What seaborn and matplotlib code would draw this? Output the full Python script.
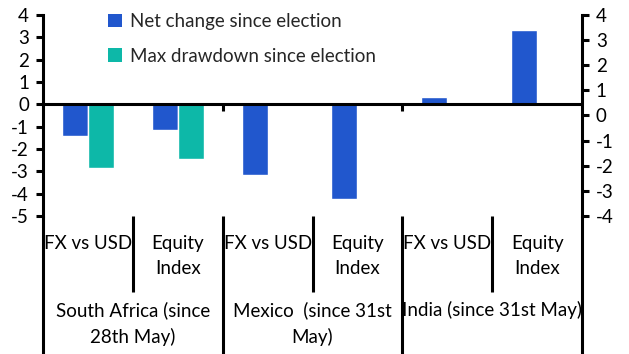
import matplotlib
matplotlib.use("Agg")
import matplotlib.pyplot as plt
import matplotlib.transforms as mtransforms
import seaborn as sns
import pandas as pd
import numpy as np

# ---- data ----
groups = ["South Africa (since\n28th May)", "Mexico  (since 31st\nMay)", "India (since 31st May)"]
subcats = ["FX vs USD", "Equity\nIndex"]
net_change = [-1.4, -1.15, -3.15, -4.25, 0.35, 3.35]
max_drawdown = [-2.85, -2.45, np.nan, np.nan, np.nan, np.nan]
series_names = ["Net change since election", "Max drawdown since election"]
left_ticks = [4, 3, 2, 1, 0, -1, -2, -3, -4, -5]
right_ticks = [4, 3, 2, 1, 0, -1, -2, -3, -4]

BLUE = "#2157CD"
TEAL = "#0DB8A8"

keys = [f"{g}|{s}" for g in groups for s in subcats]
df = pd.DataFrame({
    "key": keys * 2,
    "value": net_change + max_drawdown,
    "series": [series_names[0]] * 6 + [series_names[1]] * 6,
})

sns.set_theme(style="white")
plt.rcParams["font.family"] = ["Lato", "DejaVu Sans"]
FS = 13.5

W, H = 629, 354
fig = plt.figure(figsize=(W / 100, H / 100), dpi=100)
L, R, T, B = 43, 582, 15, 216
ax = fig.add_axes([L / W, 1 - B / H, (R - L) / W, (B - T) / H])

sns.barplot(data=df, x="key", y="value", hue="series", order=keys,
            hue_order=series_names, palette=[BLUE, TEAL], width=0.58,
            dodge=True, ax=ax, legend=False, saturation=1)

ax.set_xlim(-0.5, 5.5)
ax.set_ylim(-5, 4)
ax.set_yticks(left_ticks)
ax.set_yticklabels([str(t) for t in left_ticks], fontsize=FS)
ax.set_xticks([])
ax.set_xlabel("")
ax.set_ylabel("")
lw = 2.2
for s in ["top", "bottom"]:
    ax.spines[s].set_visible(False)
ax.spines["left"].set_linewidth(lw)
ax.spines["left"].set_color("black")
ax.spines["right"].set_visible(False)
ax.tick_params(axis="y", direction="out", length=5, width=lw, color="black",
               pad=5, left=True, labelsize=FS, labelcolor="black")

ax2 = ax.twinx()
ax2.set_ylim(-4, 4)
ax2.set_yticks(right_ticks)
ax2.set_yticklabels([str(t) for t in right_ticks], fontsize=FS)
for s in ["top", "bottom", "left"]:
    ax2.spines[s].set_visible(False)
ax2.spines["right"].set_linewidth(lw)
ax2.spines["right"].set_color("black")
ax2.tick_params(axis="y", direction="out", length=5, width=lw, color="black",
                pad=5, right=True, labelsize=FS, labelcolor="black")
ax2.grid(False)
ax.grid(False)

# zero line
ax.axhline(0, color="black", lw=lw, zorder=5)
ax.vlines([1.5, 3.5], -0.28, 0, color="black", lw=lw, zorder=5)

# category separators below axis
trans = mtransforms.blended_transform_factory(ax.transData, ax.transAxes)
sub_bottom = -(292 - B) / (B - T)
grp_bottom = -(354 - B) / (B - T)
for xb in [0.5, 2.5, 4.5]:
    ax.plot([xb, xb], [0, sub_bottom], transform=trans, color="black",
            lw=lw, clip_on=False, solid_capstyle="butt")
for xb in [-0.5, 1.5, 3.5, 5.5]:
    ax.plot([xb, xb], [0, grp_bottom], transform=trans, color="black",
            lw=lw, clip_on=False, solid_capstyle="butt")

# sub-category labels
sub_y = -(235 - B) / (B - T)
for i in range(6):
    ax.text(i, sub_y, subcats[i % 2], transform=trans, ha="center", va="top",
            fontsize=FS, linespacing=1.6, color="black")
# group labels
grp_y = -(301 - B) / (B - T)
for gi, g in enumerate(groups):
    ax.text(2 * gi + 0.5, grp_y, g, transform=trans, ha="center", va="top",
            fontsize=FS, linespacing=1.6, color="black")

# legend
from matplotlib.patches import Patch
handles = [Patch(facecolor=BLUE, edgecolor="none"), Patch(facecolor=TEAL, edgecolor="none")]
fig.legend(handles, series_names, loc="upper left",
           bbox_to_anchor=(108 / W, 1 - 13 / H), frameon=False, fontsize=FS,
           handlelength=0.75, handleheight=0.75, handletextpad=0.45,
           labelspacing=0.95, borderaxespad=0, borderpad=0)

fig.savefig("out.png", dpi=100)
